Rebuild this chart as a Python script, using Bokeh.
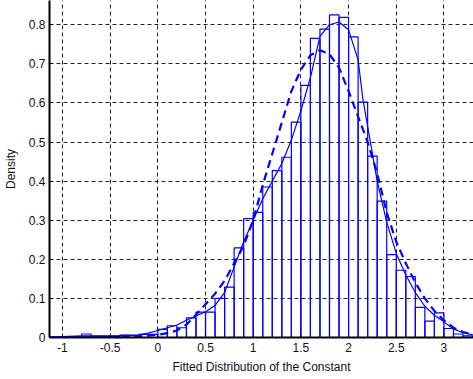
from bokeh.plotting import figure
from bokeh.models import Range1d, FixedTicker, ColumnDataSource
from bokeh.embed import file_html
from bokeh.resources import INLINE

# Histogram: bin left edges (width 0.1) and densities
bin_left = [-1.2, -1.1, -1.0, -0.9, -0.8, -0.7, -0.6, -0.5, -0.4, -0.3, -0.2, -0.1,
            0.0, 0.1, 0.2, 0.3, 0.4, 0.5, 0.6, 0.7, 0.8, 0.9,
            1.0, 1.1, 1.2, 1.3, 1.4, 1.5, 1.6, 1.7, 1.8, 1.9,
            2.0, 2.1, 2.2, 2.3, 2.4, 2.5, 2.6, 2.7, 2.8, 2.9,
            3.0, 3.1, 3.2, 3.3]
bin_right = [-1.1, -1.0, -0.9, -0.8, -0.7, -0.6, -0.5, -0.4, -0.3, -0.2, -0.1, 0.0,
             0.1, 0.2, 0.3, 0.4, 0.5, 0.6, 0.7, 0.8, 0.9, 1.0,
             1.1, 1.2, 1.3, 1.4, 1.5, 1.6, 1.7, 1.8, 1.9, 2.0,
             2.1, 2.2, 2.3, 2.4, 2.5, 2.6, 2.7, 2.8, 2.9, 3.0,
             3.1, 3.2, 3.3, 3.4]
density = [0.002, 0.002, 0.002, 0.002, 0.009, 0.003, 0.003, 0.003, 0.006, 0.005, 0.008, 0.008,
           0.021, 0.030, 0.025, 0.050, 0.065, 0.065, 0.100, 0.129, 0.229, 0.304,
           0.320, 0.385, 0.427, 0.461, 0.551, 0.645, 0.765, 0.789, 0.825, 0.819,
           0.769, 0.602, 0.464, 0.349, 0.212, 0.172, 0.156, 0.077, 0.042, 0.063,
           0.023, 0.009, 0.004, 0.003]

# Kernel density (solid)
kde_x = [-1.2, -1.0, -0.8, -0.6, -0.4, -0.2, -0.1, 0.0, 0.1, 0.2, 0.3, 0.4, 0.5, 0.6, 0.7,
         0.8, 0.9, 1.0, 1.1, 1.2, 1.3, 1.4, 1.5, 1.6, 1.7, 1.8, 1.9, 2.0, 2.1, 2.15,
         2.2, 2.3, 2.4, 2.5, 2.6, 2.7, 2.8, 2.9, 3.0, 3.1, 3.2, 3.3, 3.4]
kde_y = [0.002, 0.002, 0.004, 0.004, 0.005, 0.007, 0.011, 0.018, 0.025, 0.032, 0.044, 0.055, 0.066, 0.082, 0.115,
         0.18, 0.245, 0.30, 0.355, 0.40, 0.445, 0.505, 0.58, 0.665, 0.77, 0.80, 0.807, 0.787, 0.71, 0.61,
         0.54, 0.40, 0.295, 0.215, 0.16, 0.115, 0.08, 0.057, 0.040, 0.022, 0.012, 0.007, 0.004]

# Fitted distribution (dashed)
fit_x = [-1.2, -0.6, -0.2, 0.0, 0.1, 0.2, 0.3, 0.4, 0.5, 0.6, 0.7, 0.8, 0.9, 1.0, 1.1, 1.2, 1.3,
         1.4, 1.5, 1.6, 1.7, 1.8, 1.9, 2.0, 2.1, 2.2, 2.3, 2.4, 2.5, 2.6, 2.7, 2.8, 2.9,
         3.0, 3.1, 3.2, 3.3, 3.4]
fit_y = [0.0, 0.001, 0.003, 0.007, 0.011, 0.018, 0.033, 0.058, 0.085, 0.112, 0.145, 0.19, 0.235, 0.30, 0.39, 0.47, 0.55,
         0.63, 0.685, 0.722, 0.735, 0.725, 0.69, 0.63, 0.565, 0.50, 0.42, 0.32, 0.245, 0.19, 0.14, 0.10, 0.068,
         0.044, 0.025, 0.014, 0.008, 0.004]

x_ticks = [-1, -0.5, 0, 0.5, 1, 1.5, 2, 2.5, 3]
x_tick_labels = ["-1", "-0.5", "0", "0.5", "1", "1.5", "2", "2.5", "3"]
y_ticks = [0, 0.1, 0.2, 0.3, 0.4, 0.5, 0.6, 0.7, 0.8]
y_tick_labels = ["0", "0.1", "0.2", "0.3", "0.4", "0.5", "0.6", "0.7", "0.8"]

BLUE = "#0000ff"
FONT = "Liberation Sans"

p = figure(width=473, height=379, output_backend="svg", toolbar_location=None,
           x_range=Range1d(-1.136, 3.31), y_range=Range1d(0, 0.862),
           min_border_left=48, min_border_right=0, min_border_top=0, min_border_bottom=42)
p.outline_line_color = None
p.background_fill_color = "white"

src = ColumnDataSource(dict(left=bin_left, right=bin_right, top=density,
                            bottom=[0] * len(density)))
p.quad(left="left", right="right", top="top", bottom="bottom", source=src,
       fill_color=None, line_color=BLUE, line_width=1.2)

p.line(kde_x, kde_y, line_color=BLUE, line_width=1.2)
p.line(fit_x, fit_y, line_color=BLUE, line_width=2.2, line_dash="8 5")

for ax in (p.xaxis[0], p.yaxis[0]):
    ax.axis_line_color = "black"
    ax.axis_line_width = 2
    ax.major_tick_in = 3
    ax.major_tick_out = 0
    ax.minor_tick_line_color = None
    ax.major_tick_line_color = "black"
    ax.major_label_text_font = FONT
    ax.major_label_text_font_size = "12px"
    ax.major_label_text_color = "#111111"
    ax.axis_label_text_font = FONT
    ax.axis_label_text_font_size = "12px"
    ax.axis_label_text_font_style = "normal"
    ax.axis_label_text_color = "#111111"

p.xaxis.ticker = FixedTicker(ticks=x_ticks)
p.xaxis.major_label_overrides = {t: l for t, l in zip(x_ticks, x_tick_labels)}
p.yaxis.ticker = FixedTicker(ticks=y_ticks)
p.yaxis.major_label_overrides = {t: l for t, l in zip(y_ticks, y_tick_labels)}
p.xaxis.axis_label = "Fitted Distribution of the Constant"
p.yaxis.axis_label = "Density"
p.xaxis.major_label_standoff = 5
p.xaxis.axis_label_standoff = 5
p.yaxis.major_label_standoff = 4
p.yaxis.axis_label_standoff = 8

for g in (p.xgrid[0], p.ygrid[0]):
    g.grid_line_color = "#222222"
    g.grid_line_dash = "4 3"
    g.grid_line_width = 1

open("out.html", "w").write(file_html(p, INLINE))
